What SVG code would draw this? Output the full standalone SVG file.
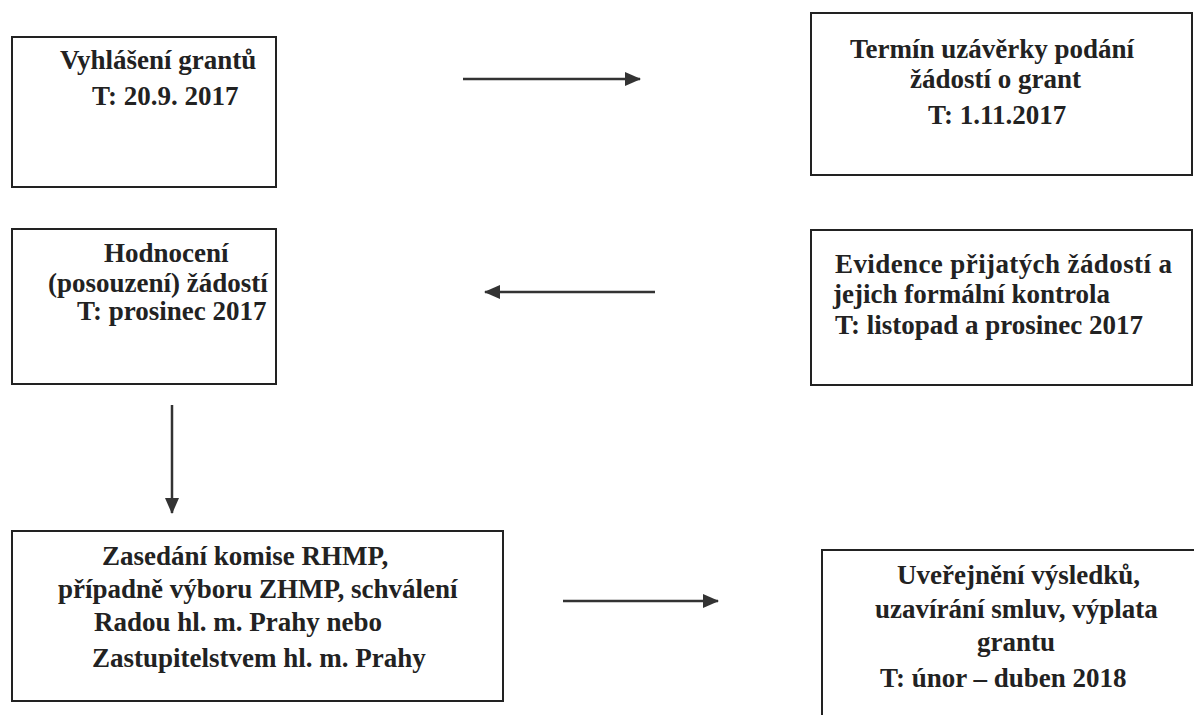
<svg xmlns="http://www.w3.org/2000/svg" width="1194" height="715" viewBox="0 0 1194 715">
<defs>
<style>
.box{fill:none;stroke:#222;stroke-width:2}
.t{font-family:"Liberation Serif","Times New Roman",serif;font-weight:bold;font-size:27px;fill:#222}
.c{stroke:#333;stroke-width:2.5;fill:none}
</style>
<marker id="ahl" markerWidth="16" markerHeight="14" refX="15" refY="7" orient="auto" markerUnits="userSpaceOnUse">
<path d="M0,0 L16,7 L0,14 Z" fill="#333"/>
</marker>
</defs>
<rect x="0" y="0" width="1194" height="715" fill="#fff"/>
<g id="n1">
<rect class="box" x="12" y="37" width="264" height="150"/>
<text class="t" x="60" y="69">Vyhlášení grantů</text>
<text class="t" x="92" y="105">T: 20.9. 2017</text>
</g>
<g id="n2">
<rect class="box" x="811" y="13" width="381" height="162"/>
<text class="t" x="850" y="58">Termín uzávěrky podání</text>
<text class="t" x="910" y="88">žádostí o grant</text>
<text class="t" x="928" y="124">T: 1.11.2017</text>
</g>
<g id="n3">
<rect class="box" x="12" y="229" width="264" height="155"/>
<text class="t" x="104" y="262">Hodnocení</text>
<text class="t" x="48" y="292">(posouzení) žádostí</text>
<text class="t" x="77" y="320">T: prosinec 2017</text>
</g>
<g id="n4">
<rect class="box" x="811" y="230" width="381" height="155"/>
<text class="t" x="835" y="273" textLength="337" lengthAdjust="spacing">Evidence přijatých žádostí a</text>
<text class="t" x="833" y="303">jejich formální kontrola</text>
<text class="t" x="835" y="334">T: listopad a prosinec 2017</text>
</g>
<g id="n5">
<rect class="box" x="12" y="531" width="491" height="170"/>
<text class="t" x="102" y="565">Zasedání komise RHMP,</text>
<text class="t" x="58" y="598">případně výboru ZHMP, schválení</text>
<text class="t" x="94" y="631">Radou hl. m. Prahy nebo</text>
<text class="t" x="92" y="667">Zastupitelstvem hl. m. Prahy</text>
</g>
<g id="n6">
<rect class="box" x="822" y="550" width="400" height="200"/>
<text class="t" x="897" y="584">Uveřejnění výsledků,</text>
<text class="t" x="875" y="618">uzavírání smluv, výplata</text>
<text class="t" x="977" y="651">grantu</text>
<text class="t" x="880" y="687">T: únor – duben 2018</text>
</g>
<g id="connectors">
<line class="c" x1="463" y1="79" x2="640" y2="79" marker-end="url(#ahl)"/>
<line class="c" x1="655" y1="292" x2="485" y2="292" marker-end="url(#ahl)"/>
<line class="c" x1="563" y1="601" x2="718" y2="601" marker-end="url(#ahl)"/>
<line class="c" x1="172" y1="405" x2="172" y2="513" marker-end="url(#ahl)"/>
</g>
</svg>
